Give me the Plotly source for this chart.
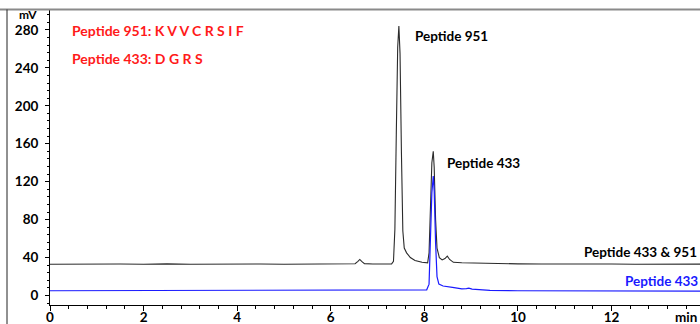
import plotly.graph_objects as go

# Chromatogram data (time in min, signal in mV)
black_t = [0.0, 0.5, 1.0, 1.5, 2.0, 2.5, 3.0, 3.5, 4.0, 4.5, 5.0, 5.5, 6.0, 6.4,
           6.52, 6.58, 6.62, 6.66, 6.72, 6.9, 7.1, 7.3, 7.34, 7.37, 7.40, 7.43,
           7.455, 7.48, 7.51, 7.54, 7.57, 7.62, 7.70, 7.80, 7.95, 8.07, 8.10,
           8.13, 8.16, 8.19, 8.21, 8.24, 8.27, 8.32, 8.38, 8.44, 8.49, 8.54,
           8.62, 8.8, 9.0, 9.2, 9.5, 10.0, 10.5, 11.0, 11.5, 12.0, 12.5, 13.0,
           13.5, 13.9]
black_v = [33.0, 33.3, 32.8, 33.2, 33.0, 33.4, 32.9, 33.2, 33.0, 33.3, 33.0, 33.2,
           33.1, 33.2, 33.5, 36.0, 38.0, 36.0, 33.6, 33.3, 33.2, 33.3, 36.0, 70.0,
           170.0, 262.0, 284.0, 255.0, 150.0, 68.0, 50.0, 45.0, 40.0, 37.0, 35.0,
           34.5, 45.0, 90.0, 140.0, 152.0, 135.0, 80.0, 50.0, 40.0, 37.5, 39.0,
           41.5, 38.0, 35.0, 34.5, 34.2, 34.3, 33.8, 33.4, 33.2, 33.5, 33.1, 33.3,
           33.0, 33.2, 33.0, 33.1]

blue_t = [0.0, 1.0, 2.0, 3.0, 4.0, 4.3, 5.0, 6.0, 7.0, 7.5, 7.9, 8.05, 8.10,
          8.13, 8.16, 8.19, 8.21, 8.24, 8.27, 8.31, 8.40, 8.60, 8.80, 8.90, 8.95,
          9.02, 9.2, 9.4, 10.0, 11.0, 12.0, 13.0, 13.9]
blue_v = [5.0, 5.1, 5.0, 5.2, 5.1, 5.5, 5.5, 5.5, 5.4, 5.5, 5.6, 6.0, 12.0,
          55.0, 108.0, 126.0, 110.0, 55.0, 20.0, 12.0, 10.0, 8.5, 7.0, 7.2, 7.8,
          6.8, 6.0, 5.5, 5.0, 5.0, 4.8, 4.7, 4.6]

y_ticks = [0, 40, 80, 120, 160, 200, 240, 280]
x_ticks = [0, 2, 4, 6, 8, 10, 12]

FONT = "Lato"

W, H = 700, 324
L, R, T, B = 50, 0, 10, 19
pw, ph = W - L - R, H - T - B


def px(x):
    return (x - L) / pw


def py(y):
    return (H - B - y) / ph


fig = go.Figure()
fig.add_trace(go.Scatter(x=black_t, y=black_v, mode="lines",
                         line=dict(color="#2b2b2b", width=1.1), showlegend=False))
fig.add_trace(go.Scatter(x=blue_t, y=blue_v, mode="lines",
                         line=dict(color="#1a1aff", width=1.2), showlegend=False))

bold13 = dict(family=FONT, size=13.5, color="black", weight="bold")

fig.update_layout(
    width=W, height=H,
    margin=dict(l=L, r=R, t=T, b=B, pad=0, autoexpand=False),
    paper_bgcolor="white", plot_bgcolor="white",
    xaxis=dict(range=[0, 13.89], tickvals=x_ticks, ticks="outside", ticklen=5,
               tickwidth=1, tickcolor="black", showline=True, linecolor="black",
               linewidth=1, showgrid=False, zeroline=False, tickfont=bold13,
               automargin=False, ticklabelstandoff=-5,
               minor=dict(dtick=0.4, ticks="outside", ticklen=3,
                          tickcolor="black", showgrid=False)),
    yaxis=dict(range=[-10, 301], tickvals=y_ticks, ticks="outside", ticklen=4,
               tickwidth=1, tickcolor="black", showline=True, linecolor="black",
               linewidth=1, showgrid=False, zeroline=False, tickfont=bold13,
               ticklabelstandoff=4, automargin=False,
               minor=dict(dtick=8, ticks="outside", ticklen=2,
                          tickcolor="black", showgrid=False)),
)

# frame lines of the original picture
fig.add_shape(type="line", xref="paper", yref="paper", x0=px(0), x1=px(W),
              y0=py(9.5), y1=py(9.5), line=dict(color="#8a8a8a", width=2))
fig.add_shape(type="line", xref="paper", yref="paper", x0=px(7), x1=px(7),
              y0=py(9.5), y1=py(H + 5), line=dict(color="#222", width=1))

red = dict(family=FONT, size=14, color="#ff1a1a", weight="bold")
anns = [
    ("mV", px(28), py(15), "center", dict(family=FONT, size=12, color="black", weight="bold")),
    ("min", px(686), py(317), "center", bold13),
    ("Peptide 951: K V V C R S I F", px(70), py(30), "left", red),
    ("Peptide 433: D G R S", px(70), py(58), "left", red),
    ("Peptide 951", px(413), py(36), "left", bold13),
    ("Peptide 433", px(445), py(163), "left", bold13),
    ("Peptide 433 & 951", px(582), py(252), "left", bold13),
    ("Peptide 433", px(623), py(281), "left",
     dict(family=FONT, size=13.5, color="#1a1aff", weight="bold")),
]
for text, x, y, anchor, font in anns:
    fig.add_annotation(text=text, x=x, y=y, xref="paper", yref="paper",
                       xanchor=anchor, yanchor="middle", showarrow=False,
                       font=font)

fig.write_html("out.html")
